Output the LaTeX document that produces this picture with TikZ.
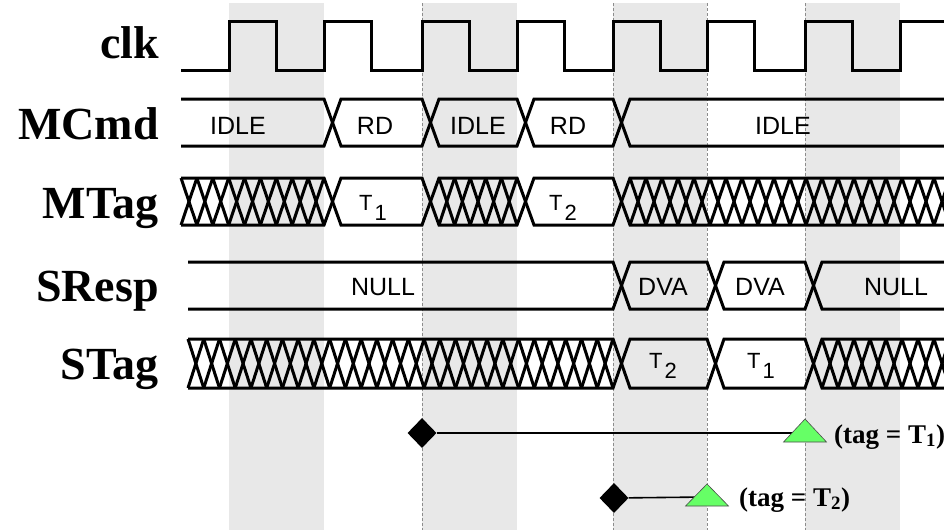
\documentclass[tikz,border=0pt]{standalone}
\usepackage{fontspec}
\setmainfont{Liberation Serif}
\setsansfont{Liberation Sans}
\usetikzlibrary{shapes.geometric}
\definecolor{bandgray}{RGB}{232,232,232}
\definecolor{gridgray}{RGB}{140,140,140}
\definecolor{ackgreen}{RGB}{102,255,102}

% row of X's between #1 and #2 (#3 of them), from level #4 to level #5
\newcommand{\xhatch}[5]{%
  \pgfmathsetmacro{\hatchw}{(#2-#1)/#3}
  \foreach \k in {1,...,#3} {
    \draw[sig] ({#1+(\k-1)*\hatchw},#4) -- ({#1+\k*\hatchw},#5);
    \draw[sig] ({#1+(\k-1)*\hatchw},#5) -- ({#1+\k*\hatchw},#4);
  }}
% tag value: letter with a lowered index of the same size
\newcommand{\tagval}[1]{T\kern2pt\raisebox{-10pt}{#1}}

\begin{document}
\begin{tikzpicture}[
    x=1pt, y=-1pt,
    sig/.style={line width=3pt, black},
    grid/.style={densely dashed, gridgray, line width=0.8pt},
    siglabel/.style={anchor=base east, inner sep=0pt, font=\fontsize{46}{50}\selectfont\bfseries},
    busword/.style={anchor=base, inner sep=0pt, font=\sffamily\fontsize{25}{28}\selectfont},
    bustag/.style={anchor=base, inner sep=0pt, font=\sffamily\fontsize{22}{24}\selectfont},
    reqmark/.style={diamond, fill=black, minimum width=29pt, minimum height=30pt, inner sep=0pt},
    ackmark/.style={fill=ackgreen, draw=black!70, line width=0.6pt},
    tagline/.style={line width=1.6pt, black},
    taglabel/.style={anchor=base west, inner sep=0pt, font=\fontsize{27}{30}\selectfont\bfseries}
]
\useasboundingbox (0,0) rectangle (944,530);
\clip (0,0) rectangle (944,530);

% shaded clock periods and cycle markers
\foreach \a/\b in {229/324, 422/517, 613/707, 805/900}
  \fill[bandgray] (\a,3) rectangle (\b,530);
\foreach \x in {422, 613, 707, 805}
  \draw[grid] (\x,3) -- (\x,530);

% signal names
\node[siglabel] (clk) at (159,58) {clk};
\node[siglabel] (mcmd) at (159,139) {MCmd};
\node[siglabel] (mtag) at (159,218) {MTag};
\node[siglabel] (sresp) at (159,301) {SResp};
\node[siglabel] (stag) at (159,379) {STag};

% clock
\draw[sig] (181,70) \foreach \r in {229,324,422,517,613,707,805,900} {
  -- (\r,70) -- (\r,21) -- ({\r+47.5},21) -- ({\r+47.5},70) };

% MCmd
\draw[sig] (181,99) -- (324,99) -- (341,146) -- (422,146) -- (439,99) -- (517,99)
  -- (534,146) -- (613,146) -- (630,99) -- (950,99);
\draw[sig] (181,146) -- (324,146) -- (341,99) -- (422,99) -- (439,146) -- (517,146)
  -- (534,99) -- (613,99) -- (630,146) -- (950,146);
\node[busword] (cmd1) at (238,134) {IDLE};
\node[busword] (cmd2) at (375,134) {RD};
\node[busword] (cmd3) at (478,134) {IDLE};
\node[busword] (cmd4) at (568,134) {RD};
\node[busword] (cmd5) at (783,134) {IDLE};

% MTag
\draw[sig] (181,178) -- (324,178) -- (341,225) -- (422,225) -- (439,178) -- (517,178)
  -- (534,225) -- (613,225) -- (630,178) -- (950,178);
\draw[sig] (181,225) -- (324,225) -- (341,178) -- (422,178) -- (439,225) -- (517,225)
  -- (534,178) -- (613,178) -- (630,225) -- (950,225);
\xhatch{181}{324}{9}{178}{225}
\xhatch{439}{517}{5}{178}{225}
\xhatch{630}{950}{20}{178}{225}
\node[bustag] (mtag1) at (373,210) {\tagval{1}};
\node[bustag] (mtag2) at (563,210) {\tagval{2}};

% SResp
\draw[sig] (188,262) -- (613,262) -- (630,309) -- (707,309) -- (724,262) -- (805,262)
  -- (822,309) -- (950,309);
\draw[sig] (188,309) -- (613,309) -- (630,262) -- (707,262) -- (724,309) -- (805,309)
  -- (822,262) -- (950,262);
\node[busword] (resp1) at (383,295) {NULL};
\node[busword] (resp2) at (663,295) {DVA};
\node[busword] (resp3) at (760,295) {DVA};
\node[busword] (resp4) at (896,295) {NULL};

% STag
\draw[sig] (188,339) -- (613,339) -- (630,388) -- (707,388) -- (724,339) -- (805,339)
  -- (822,388) -- (950,388);
\draw[sig] (188,388) -- (613,388) -- (630,339) -- (707,339) -- (724,388) -- (805,388)
  -- (822,339) -- (950,339);
\xhatch{188}{613}{27}{339}{388}
\xhatch{822}{950}{8}{339}{388}
\node[bustag] (stag1) at (663,368) {\tagval{2}};
\node[bustag] (stag2) at (761,368) {\tagval{1}};

% request to response
\node[reqmark] (req1) at (422,433) {};
\coordinate (ack1) at (805,433);
\draw[tagline] (req1) -- (ack1);
\draw[ackmark] ([shift={(-21.5,9)}]ack1) -- ([shift={(21.5,9)}]ack1) -- ([shift={(0,-14)}]ack1) -- cycle;
\node[taglabel] (tag1) at (834,443) {(tag = T\textsubscript{1})};

\node[reqmark] (req2) at (614,498) {};
\coordinate (ack2) at (707,497);
\draw[tagline] (req2) -- (ack2);
\draw[ackmark] ([shift={(-21.5,9)}]ack2) -- ([shift={(21.5,9)}]ack2) -- ([shift={(0,-13)}]ack2) -- cycle;
\node[taglabel] (tag2) at (739,506) {(tag = T\textsubscript{2})};
\end{tikzpicture}
\end{document}
